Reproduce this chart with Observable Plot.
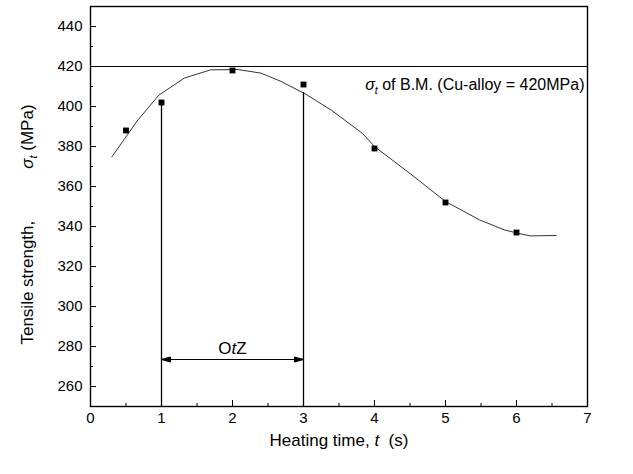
<!DOCTYPE html>
<html>
<head>
<meta charset="utf-8">
<script src="https://cdn.jsdelivr.net/npm/d3@7"></script>
<script src="https://cdn.jsdelivr.net/npm/@observablehq/plot@0.6"></script>
<style>
  body { margin: 0; background: #fff; }
  svg text { white-space: pre; }
</style>
</head>
<body>
<div id="chart"></div>
<script>
// Measured tensile strength of the joint versus heating time
const measuredTime = [0.5, 1, 2, 3, 4, 5, 6];
const measuredStrength = [388, 402, 418, 411, 379, 352, 337];

// Fitted trend curve through the measurements
const fitTime = [0.30, 0.52, 0.66, 0.96, 1.32, 1.69, 2.07, 2.40, 2.68, 3.04, 3.39, 3.83, 4.00, 4.50, 5.00, 5.48, 5.83, 6.00, 6.19, 6.56];
const fitStrength = [374.8, 385.8, 392.9, 405.6, 414.2, 418.3, 418.5, 416.7, 412.6, 406.0, 398.2, 386.6, 380.0, 366.5, 352.5, 343.3, 338.3, 336.8, 335.3, 335.5];

// Base metal strength (Cu-alloy)
const baseMetalStrength = [420];

// Heating-time window bounded by vertical lines
const zoneTime = [1, 3];
const zoneStrength = [402, 407];

// Axis ticks
const xTicks = [0, 1, 2, 3, 4, 5, 6, 7];
const xMinorTicks = [0.5, 1.5, 2.5, 3.5, 4.5, 5.5, 6.5];
const yTicks = [260, 280, 300, 320, 340, 360, 380, 400, 420, 440];
const yMinorTicks = [270, 290, 310, 330, 350, 370, 390, 410, 430];

// Text pieces (italic / subscript parts marked)
const yLabelParts = [{text: "Tensile strength,           "}, {text: "σ", italic: true}, {text: "t", italic: true, sub: true}, {text: " (MPa)"}];
const xLabelParts = [{text: "Heating time, "}, {text: "t", italic: true}, {text: "  (s)"}];
const noteParts = [{text: "σ", italic: true}, {text: "t", italic: true, sub: true}, {text: " of B.M. (Cu-alloy = 420MPa)"}];
const zoneLabelParts = [{text: "O"}, {text: "t", italic: true}, {text: "Z"}];

const points = measuredTime.map((t, i) => ({t, s: measuredStrength[i]}));
const fit = fitTime.map((t, i) => ({t, s: fitStrength[i]}));
const zone = zoneTime.map((t, i) => ({t, s: zoneStrength[i]}));

function filledArrow(color) {
  const m = d3.create("svg:marker")
    .attr("viewBox", "-9 -2.5 9 5")
    .attr("markerWidth", 9)
    .attr("markerHeight", 5)
    .attr("markerUnits", "userSpaceOnUse")
    .attr("orient", "auto-start-reverse")
    .attr("overflow", "visible");
  m.append("path").attr("fill", color === "currentColor" ? "black" : color).attr("d", "M0,0L-9,-2.3L-9,2.3Z");
  return m.node();
}

const chart = Plot.plot({
  width: 633,
  height: 474,
  marginTop: 6,
  marginBottom: 68,
  marginLeft: 90,
  marginRight: 46,
  style: {fontFamily: "'Liberation Sans', Arial, sans-serif", fontSize: "15px", color: "black", background: "white"},
  x: {domain: [0, 7]},
  y: {domain: [250, 450]},
  marks: [
    Plot.ruleY(baseMetalStrength, {stroke: "black", strokeWidth: 1}),
    Plot.ruleX(zone, {x: "t", y1: 250, y2: "s", stroke: "black", strokeWidth: 1.3}),
    Plot.link([zoneTime], {x1: d => d[0], x2: d => d[1], y1: 273.5, y2: 273.5, stroke: "black", strokeWidth: 1.2, markerStart: filledArrow, markerEnd: filledArrow}),
    Plot.text([zoneTime], {x: d => (d[0] + d[1]) / 2, y: 279, text: () => "OtZ", fontSize: 17, className: "zone-label"}),
    Plot.line(fit, {x: "t", y: "s", stroke: "black", strokeWidth: 0.8}),
    Plot.dot(points, {x: "t", y: "s", symbol: "square", r: 3.3, fill: "black", stroke: "none"}),
    Plot.text(baseMetalStrength, {frameAnchor: "right", y: d => d - 9, dx: -3, text: () => "note", textAnchor: "end", lineAnchor: "middle", fontSize: 16, className: "bm-note"}),
    Plot.axisX({ticks: xTicks, tickSize: -6, tickPadding: 12, tickFormat: d3.format("d"), label: null, fontSize: 15}),
    Plot.axisX({ticks: xMinorTicks, tickSize: -3, tickFormat: () => "", label: null}),
    Plot.axisY({ticks: yTicks, tickSize: -6, tickPadding: 14, tickFormat: d3.format("d"), label: null, fontSize: 15}),
    Plot.axisY({ticks: yMinorTicks, tickSize: -3, tickFormat: () => "", label: null}),
    Plot.text(["y"], {frameAnchor: "left", y: 341, dx: -63, rotate: -90, textAnchor: "middle", lineAnchor: "middle", text: () => "ylabel", fontSize: 17, className: "y-label"}),
    Plot.text(["x"], {frameAnchor: "bottom", x: 3.5, dy: 34, textAnchor: "middle", lineAnchor: "middle", text: () => "xlabel", fontSize: 17, className: "x-label"}),
    Plot.frame({stroke: "black", strokeWidth: 1.4})
  ]
});

function setRich(selection, parts) {
  selection.each(function () {
    const t = d3.select(this);
    t.text(null);
    let shift = 0;
    for (const p of parts) {
      const target = p.sub ? 4 : 0;
      const s = t.append("tspan").text(p.text);
      if (p.italic) s.attr("font-style", "italic");
      if (p.sub) s.attr("font-size", "0.65em");
      if (target !== shift) s.attr("dy", target - shift);
      shift = target;
    }
  });
}

const svg = d3.select(chart);
setRich(svg.selectAll(".y-label text"), yLabelParts);
setRich(svg.selectAll(".x-label text"), xLabelParts);
setRich(svg.selectAll(".bm-note text"), noteParts);
setRich(svg.selectAll(".zone-label text"), zoneLabelParts);

document.getElementById("chart").appendChild(chart);
</script>
</body>
</html>
